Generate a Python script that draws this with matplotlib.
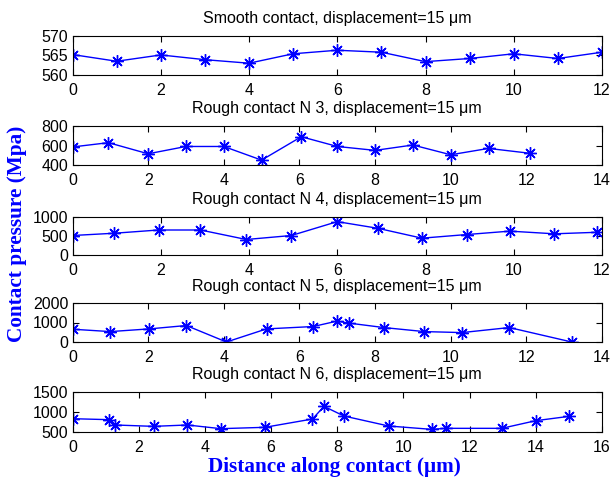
import matplotlib
matplotlib.use("Agg")
import matplotlib.pyplot as plt

# Contact pressure profiles along the contact, one panel per case
titles = [
    "Smooth contact, displacement=15 μm",
    "Rough contact N 3, displacement=15 μm",
    "Rough contact N 4, displacement=15 μm",
    "Rough contact N 5, displacement=15 μm",
    "Rough contact N 6, displacement=15 μm",
]

smooth_x = [0, 1, 2, 3, 4, 5, 6, 7, 8, 9, 10, 11, 12]
smooth_p = [565.2, 563.5, 565.1, 563.9, 563.0, 565.4, 566.3, 565.8, 563.4, 564.2, 565.4, 564.2, 565.8]

n3_x = [0, 0.95, 2, 3, 4, 5, 6.05, 7, 8, 9, 10, 11, 12.1]
n3_p = [585, 629, 515, 590, 590, 450, 690, 590, 550, 605, 505, 570, 520]

n4_x = [0, 0.95, 1.95, 2.9, 3.94, 4.96, 6.0, 6.92, 7.92, 8.93, 9.91, 10.92, 11.89]
n4_p = [505, 565, 650, 650, 400, 505, 870, 695, 435, 530, 620, 550, 590]

n5_x = [0, 1.0, 2.03, 3.01, 4.07, 5.13, 6.36, 6.99, 7.32, 8.23, 9.3, 10.3, 11.55, 13.2]
n5_p = [655, 534, 672, 845, 0, 672, 793, 1069, 966, 741, 534, 483, 741, 0]

n6_x = [0, 1.11, 1.29, 2.45, 3.47, 4.48, 5.81, 7.25, 7.6, 8.2, 9.55, 10.85, 11.28, 12.97, 14.0, 15.0]
n6_p = [830, 806, 674, 640, 674, 583, 616, 822, 1136, 897, 649, 566, 591, 591, 781, 888]

xs = [smooth_x, n3_x, n4_x, n5_x, n6_x]
ps = [smooth_p, n3_p, n4_p, n5_p, n6_p]

xlims = [(0, 12), (0, 14), (0, 12), (0, 14), (0, 16)]
xticks = [range(0, 13, 2), range(0, 15, 2), range(0, 13, 2), range(0, 15, 2), range(0, 17, 2)]
ylims = [(560, 570), (400, 800), (0, 1000), (0, 2000), (500, 1500)]
yticks = [[560, 565, 570], [400, 600, 800], [0, 500, 1000], [0, 1000, 2000], [500, 1000, 1500]]

W, H = 612, 480
left_px, right_px = 72.5, 602
boxes_px = [(35.7, 75), (126, 165), (216.7, 254.7), (303, 342), (391.7, 432)]

plt.rcParams["font.family"] = ["Liberation Sans", "DejaVu Sans"]

fig = plt.figure(figsize=(W / 100, H / 100), dpi=100)

# asterisk marker: plus and cross overlaid
asterisk = (8, 2, 0)

for i in range(5):
    top, bot = boxes_px[i]
    ax = fig.add_axes([left_px / W, 1 - bot / H, (right_px - left_px) / W, (bot - top) / H])
    ax.plot(xs[i], ps[i], color="#0000ff", lw=1.0, marker=asterisk, markersize=9,
            markeredgewidth=1.0)
    ax.set_xlim(*xlims[i])
    ax.set_ylim(*ylims[i])
    ax.set_xticks(list(xticks[i]))
    ax.set_yticks(yticks[i])
    ax.tick_params(direction="in", top=True, right=True, length=4, width=0.8,
                   labelsize=11.5)
    ax.tick_params(axis="x", pad=6)
    ax.tick_params(axis="y", pad=3)
    for s in ax.spines.values():
        s.set_linewidth(0.8)
    ax.set_title(titles[i], fontsize=11.5, pad=9)

label_font = dict(family="Liberation Serif", fontweight="bold", color="#0000ff", fontsize=15.3)
fig.text(17 / W, 1 - 234 / H, "Contact pressure (Mpa)", rotation=90,
         ha="center", va="center", **label_font)
fig.text(334 / W, 1 - 467 / H, "Distance along contact (μm)",
         ha="center", va="center", **label_font)

fig.savefig("out.png", dpi=100)
